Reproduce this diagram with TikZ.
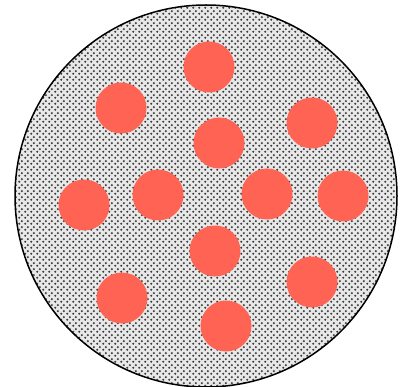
\documentclass[tikz,border=0pt]{standalone}
\usetikzlibrary{patterns.meta}
\definecolor{dotc}{RGB}{60,60,60}
\definecolor{bgc}{RGB}{232,232,232}
\definecolor{redc}{RGB}{255,99,84}
\pgfdeclarepattern{
  name=stipple,
  type=uncolored,
  bottom left={\pgfpoint{0pt}{0pt}},
  top right={\pgfpoint{6pt}{6pt}},
  tile size={\pgfpoint{6pt}{6pt}},
  code={
    \pgfpathcircle{\pgfpoint{1.5pt}{1.5pt}}{1.35pt}
    \pgfpathcircle{\pgfpoint{4.5pt}{4.5pt}}{1.35pt}
    \pgfusepath{fill}
  }
}
\tikzset{
  cell/.style={circle, fill=redc, draw=none, minimum size=51pt, inner sep=0pt},
  ring/.style={draw=black, line width=1.5pt}
}
\begin{document}
\begin{tikzpicture}[x=1pt,y=-1pt]
\useasboundingbox (0,0) rectangle (401,387);
\fill[white] (0,0) rectangle (401,387);
\fill[bgc] (206,196) circle [radius=191pt];
\fill[pattern=stipple, pattern color=dotc] (206,196) circle [radius=191pt];
\node[ring, circle, minimum size=382pt, inner sep=0pt] (outer) at (206,196) {};
\node[cell] (c1) at (209,67) {};
\node[cell] (c2) at (121,108) {};
\node[cell] (c3) at (219,143) {};
\node[cell] (c4) at (312,123) {};
\node[cell] (c5) at (84,205) {};
\node[cell] (c6) at (158,195) {};
\node[cell] (c7) at (267,194) {};
\node[cell] (c8) at (343,196) {};
\node[cell] (c9) at (215,251) {};
\node[cell] (c10) at (122,298) {};
\node[cell] (c11) at (312,282) {};
\node[cell] (c12) at (226,326) {};
\end{tikzpicture}
\end{document}
